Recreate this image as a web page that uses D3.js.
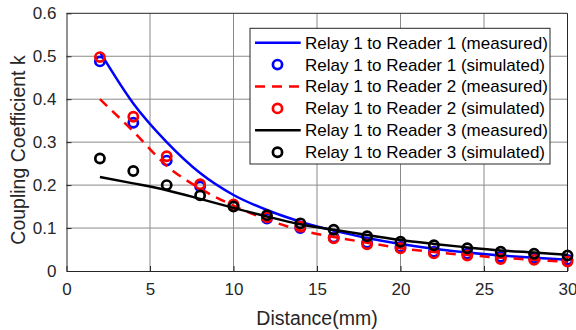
<!DOCTYPE html>
<html>
<head>
<meta charset="utf-8">
<script src="https://cdn.jsdelivr.net/npm/d3@7"></script>
<style>
  html, body { margin: 0; padding: 0; background: #fff; }
  svg { display: block; font-family: "Liberation Sans", Arial, sans-serif; }
</style>
</head>
<body>
<svg id="chart" width="576" height="330"></svg>
<script>
// Distance between relay and reader coils (mm)
const distance = [2, 4, 6, 8, 10, 12, 14, 16, 18, 20, 22, 24, 26, 28, 30];

// Measured coupling coefficients
const reader1Measured = [0.51, 0.39, 0.30, 0.228, 0.177, 0.142, 0.115, 0.094, 0.077, 0.063, 0.052, 0.043, 0.036, 0.031, 0.026];
const reader2Measured = [0.40, 0.325, 0.245, 0.192, 0.152, 0.12, 0.095, 0.079, 0.066, 0.053, 0.044, 0.037, 0.031, 0.026, 0.021];
const reader3Measured = [0.219, 0.204, 0.188, 0.168, 0.147, 0.127, 0.109, 0.096, 0.084, 0.072, 0.063, 0.055, 0.048, 0.043, 0.038];

// Simulated coupling coefficients
const reader1Simulated = [0.488, 0.345, 0.257, 0.197, 0.152, 0.122, 0.100, 0.078, 0.066, 0.056, 0.045, 0.040, 0.033, 0.030, 0.026];
const reader2Simulated = [0.498, 0.359, 0.267, 0.202, 0.155, 0.125, 0.103, 0.076, 0.062, 0.053, 0.041, 0.036, 0.028, 0.026, 0.022];
const reader3Simulated = [0.262, 0.233, 0.200, 0.176, 0.150, 0.130, 0.111, 0.096, 0.081, 0.068, 0.060, 0.053, 0.045, 0.040, 0.036];

const xTicks = [0, 5, 10, 15, 20, 25, 30];
const yTicks = [0, 0.1, 0.2, 0.3, 0.4, 0.5, 0.6];

const legendLabels = [
  "Relay 1 to Reader 1 (measured)",
  "Relay 1 to Reader 1 (simulated)",
  "Relay 1 to Reader 2 (measured)",
  "Relay 1 to Reader 2 (simulated)",
  "Relay 1 to Reader 3 (measured)",
  "Relay 1 to Reader 3 (simulated)"
];

const svg = d3.select("#chart");
const plotLeft = 66.5, plotRight = 567.5, plotTop = 13.3, plotBottom = 271;

const x = d3.scaleLinear().domain([0, 30]).range([plotLeft, plotRight]);
const y = d3.scaleLinear().domain([0, 0.6]).range([plotBottom, plotTop]);

const gridColor = "#8a8a8a";
const axisColor = "#262626";

// Grid
const grid = svg.append("g");
grid.selectAll("line.gx").data(xTicks.slice(1, -1)).join("line")
  .attr("x1", d => x(d)).attr("x2", d => x(d))
  .attr("y1", plotTop).attr("y2", plotBottom)
  .attr("stroke", gridColor).attr("stroke-width", 1);
grid.selectAll("line.gy").data(yTicks.slice(1, -1)).join("line")
  .attr("x1", plotLeft).attr("x2", plotRight)
  .attr("y1", d => y(d)).attr("y2", d => y(d))
  .attr("stroke", gridColor).attr("stroke-width", 1);

// Axes with inward ticks
const xAxis = svg.append("g").attr("transform", `translate(0,${plotBottom})`)
  .call(d3.axisBottom(x).tickValues(xTicks).tickSizeInner(-5).tickSizeOuter(0).tickPadding(12));
const yAxis = svg.append("g").attr("transform", `translate(${plotLeft},0)`)
  .call(d3.axisLeft(y).tickValues(yTicks).tickSizeInner(-5).tickSizeOuter(0).tickPadding(10)
    .tickFormat(d => d === 0 ? "0" : d3.format(".1f")(d)));
[xAxis, yAxis].forEach(a => {
  a.select(".domain").attr("stroke", axisColor);
  a.selectAll(".tick line").attr("stroke", axisColor);
  a.selectAll(".tick text").attr("fill", "#262626").attr("font-size", 17)
    .attr("font-family", "Liberation Sans, Arial, sans-serif");
});

// Box top and right
svg.append("line").attr("x1", plotLeft).attr("x2", plotRight).attr("y1", plotTop).attr("y2", plotTop).attr("stroke", axisColor);
svg.append("line").attr("x1", plotRight).attr("x2", plotRight).attr("y1", plotTop).attr("y2", plotBottom).attr("stroke", axisColor);

// Axis labels
svg.append("text").attr("x", (plotLeft + plotRight) / 2).attr("y", 325)
  .attr("text-anchor", "middle").attr("font-size", 19.5).attr("fill", "#262626")
  .text("Distance(mm)");
svg.append("text").attr("transform", "translate(25,150) rotate(-90)")
  .attr("text-anchor", "middle").attr("font-size", 19.5).attr("fill", "#262626")
  .text("Coupling Coefficient k");

// Series
const series = [
  { measured: reader1Measured, simulated: reader1Simulated, color: "#0000ff", dash: null },
  { measured: reader2Measured, simulated: reader2Simulated, color: "#ff0000", dash: "10,7" },
  { measured: reader3Measured, simulated: reader3Simulated, color: "#000000", dash: null }
];

const markerR = 4.6, markerW = 2.7;
const line = d3.line().x((d, i) => x(distance[i])).y(d => y(d)).curve(d3.curveMonotoneX);
const plot = svg.append("g");

series.forEach(s => {
  plot.append("path").datum(s.measured)
    .attr("d", line).attr("fill", "none")
    .attr("stroke", s.color).attr("stroke-width", 2.5)
    .attr("stroke-dasharray", s.dash);
  plot.append("g").selectAll("circle").data(s.simulated).join("circle")
    .attr("cx", (d, i) => x(distance[i])).attr("cy", d => y(d))
    .attr("r", markerR).attr("fill", "none")
    .attr("stroke", s.color).attr("stroke-width", markerW);
});

// Legend
const lg = svg.append("g");
lg.append("rect").attr("x", 250).attr("y", 28.3).attr("width", 300).attr("height", 135.7)
  .attr("fill", "#fff").attr("stroke", "#262626").attr("stroke-width", 1);
const rowY = i => 42.7 + i * 21.9;
legendLabels.forEach((label, i) => {
  const s = series[Math.floor(i / 2)];
  const yy = rowY(i);
  if (i % 2 === 0) {
    lg.append("line").attr("x1", 255).attr("x2", 300.7).attr("y1", yy).attr("y2", yy)
      .attr("stroke", s.color).attr("stroke-width", 2.5)
      .attr("stroke-dasharray", s.dash);
  } else {
    lg.append("circle").attr("cx", 277.5).attr("cy", yy).attr("r", markerR)
      .attr("fill", "none").attr("stroke", s.color).attr("stroke-width", markerW);
  }
  lg.append("text").attr("x", 305).attr("y", yy).attr("dy", "0.35em")
    .attr("font-size", 17).attr("fill", "#000").text(label);
});
</script>
</body>
</html>
